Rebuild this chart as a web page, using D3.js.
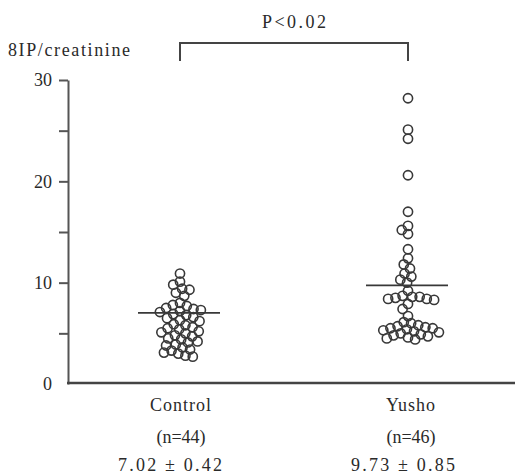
<!DOCTYPE html>
<html>
<head>
<meta charset="utf-8">
<script src="https://cdn.jsdelivr.net/npm/d3@7/dist/d3.min.js"></script>
<style>
  html, body { margin: 0; padding: 0; background: #fff; }
  svg { display: block; }
  text { font-family: "Liberation Serif", "DejaVu Serif", serif; fill: #2a2a2a; }
</style>
</head>
<body>
<svg id="chart" width="520" height="474"></svg>
<script>
// Urinary 8-isoprostane / creatinine in controls vs. Yusho patients
const groups = ["Control", "Yusho"];
const groupCounts = [44, 46];
const groupMeans = [7.02, 9.73];
const groupSems = [0.42, 0.85];

const controlValues = [
  10.9, 10.1, 9.8, 9.4, 9.3, 9.0, 8.7,
  8.0, 7.8, 7.7, 7.5, 7.4, 7.3, 7.2, 7.1,
  6.9, 6.8, 6.6, 6.5, 6.3, 6.2,
  5.9, 5.8, 5.6, 5.5, 5.4, 5.2, 5.1,
  5.0, 4.8, 4.7, 4.5, 4.4, 4.2, 4.1,
  3.9, 3.8, 3.6, 3.4, 3.3, 3.1, 3.0, 2.8, 2.7
];
const yushoValues = [
  28.2, 25.1, 24.2, 20.6, 17.0, 15.6, 15.2, 14.8,
  13.3, 12.4, 11.8, 11.4, 10.9, 10.6, 10.3, 10.0,
  9.2, 8.7, 8.6, 8.6, 8.5, 8.4, 8.4, 8.3,
  7.9, 7.4, 6.7,
  6.1, 6.0, 5.8, 5.7, 5.6, 5.5, 5.5, 5.4, 5.3, 5.2, 5.1, 5.0,
  4.9, 4.8, 4.7, 4.6, 4.5, 4.4
];
const seriesValues = [controlValues, yushoValues];

const yMajorTicks = [0, 10, 20, 30];
const yAllTicks = [5, 10, 15, 20, 25, 30];
const yLabel = "8IP/creatinine";
const pLabel = "P<0.02";

const svg = d3.select("#chart");
const ink = "#383838";

const y = d3.scaleLinear().domain([0, 30]).range([384, 80]);
const x = d3.scalePoint().domain(groups).range([180, 408]);
const axisX = 68;

// y axis: ticks on the left, labels only at multiples of 10
const yAxis = d3.axisLeft(y)
  .tickValues(yAllTicks)
  .tickSize(9)
  .tickSizeOuter(0)
  .tickPadding(7)
  .tickFormat(d => yMajorTicks.includes(d) ? d : "");
const gy = svg.append("g").attr("transform", `translate(${axisX},0)`).call(yAxis);
gy.select(".domain").attr("stroke", "#555").attr("stroke-width", 2);
gy.selectAll(".tick line").attr("stroke", "#555").attr("stroke-width", 2);
gy.selectAll(".tick text")
  .attr("font-family", "Liberation Serif, serif")
  .attr("font-size", 18)
  .attr("fill", "#2a2a2a");
// zero label sits at the corner without a tick
gy.append("text")
  .attr("x", -16).attr("y", y(0) + 6)
  .attr("text-anchor", "end")
  .attr("font-size", 18)
  .text(yMajorTicks[0]);

// baseline
svg.append("line")
  .attr("x1", axisX - 1).attr("x2", 515)
  .attr("y1", y(0) - 1).attr("y2", y(0) - 1)
  .attr("stroke", "#444").attr("stroke-width", 2.5);

// y title
svg.append("text")
  .attr("x", 8).attr("y", 56)
  .attr("font-size", 18)
  .attr("textLength", 122).attr("lengthAdjust", "spacing")
  .text(yLabel);

// significance bracket
const bracketTop = 43, bracketLeg = 61;
svg.append("path")
  .attr("d", `M${x(groups[0])},${bracketLeg}V${bracketTop}H${x(groups[1])}V${bracketLeg}`)
  .attr("fill", "none").attr("stroke", "#444").attr("stroke-width", 2);
svg.append("text")
  .attr("x", (x(groups[0]) + x(groups[1])) / 2).attr("y", 28)
  .attr("text-anchor", "middle")
  .attr("font-size", 18)
  .attr("textLength", 64).attr("lengthAdjust", "spacing")
  .text(pLabel);

// beeswarm placement: each point takes the x offset nearest the centre line
// that keeps it at least `gap` px from every point already placed
function swarm(values, cx, gap) {
  const placed = [];
  const sorted = values.map((v, i) => ({ v, i })).sort((a, b) => b.v - a.v);
  for (const p of sorted) {
    const py = y(p.v);
    const near = placed.filter(q => Math.abs(q.y - py) < gap);
    const cands = [0];
    for (const q of near) {
      const dx = Math.sqrt(gap * gap - (q.y - py) ** 2);
      cands.push(q.dx + dx + 0.01, q.dx - dx - 0.01);
    }
    cands.sort((a, b) => Math.abs(a) - Math.abs(b) || a - b);
    let best = 0;
    for (const c of cands) {
      if (near.every(q => (q.dx - c) ** 2 + (q.y - py) ** 2 >= gap * gap - 0.01)) { best = c; break; }
    }
    placed.push({ v: p.v, y: py, dx: best });
  }
  return placed.map(p => ({ v: p.v, cx: cx + p.dx, cy: p.y }));
}

groups.forEach((g, gi) => {
  const cx = x(g);
  const pts = swarm(seriesValues[gi], cx, 7.4);
  svg.append("g").selectAll("circle").data(pts).join("circle")
    .attr("cx", d => d.cx).attr("cy", d => d.cy)
    .attr("r", 4.6)
    .attr("fill", "none").attr("stroke", ink).attr("stroke-width", 1.6);

  // group mean
  svg.append("line")
    .attr("x1", cx - 42).attr("x2", cx + 40)
    .attr("y1", y(groupMeans[gi])).attr("y2", y(groupMeans[gi]))
    .attr("stroke", ink).attr("stroke-width", 1.6);

  // category captions
  const lx = gi === 0 ? cx + 1 : cx + 3;
  svg.append("text").attr("x", lx).attr("y", 411)
    .attr("text-anchor", "middle").attr("font-size", 18)
    .attr("letter-spacing", 1)
    .text(g);
  svg.append("text").attr("x", lx).attr("y", 443)
    .attr("text-anchor", "middle").attr("font-size", 18)
    .text(`(n=${groupCounts[gi]})`);
  svg.append("text").attr("x", gi === 0 ? 170 : 403).attr("y", 471)
    .attr("text-anchor", "middle").attr("font-size", 18)
    .attr("textLength", 104).attr("lengthAdjust", "spacing")
    .text(`${groupMeans[gi].toFixed(2)} ± ${groupSems[gi].toFixed(2)}`);
});
</script>
</body>
</html>
